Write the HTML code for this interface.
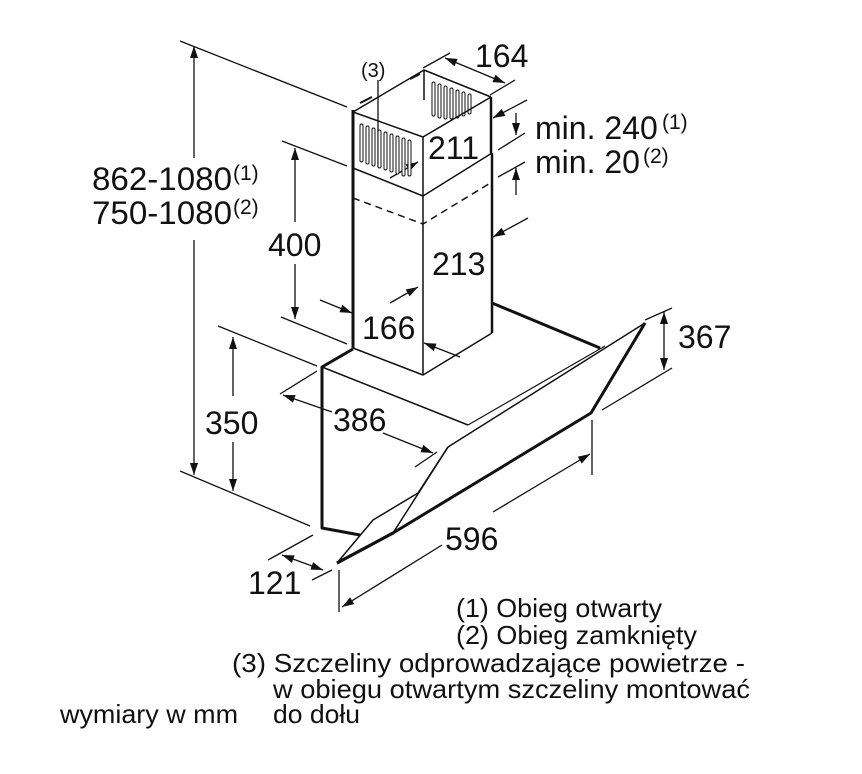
<!DOCTYPE html>
<html><head><meta charset="utf-8"><style>
html,body{margin:0;padding:0;background:#fff;}
svg{display:block;}
text{font-family:"Liberation Sans",Arial,sans-serif;fill:#111;}
</style></head><body>
<svg width="862" height="774" viewBox="0 0 862 774" xmlns="http://www.w3.org/2000/svg">
<defs>
<marker id="a" viewBox="0 0 12 8" refX="12" refY="4" markerWidth="12" markerHeight="8" markerUnits="userSpaceOnUse" orient="auto-start-reverse"><path d="M0,0 L12,4 L0,8 z" fill="#111"/></marker>
</defs>
<g stroke="#111" fill="none" stroke-width="1.3">
<line x1="180" y1="41" x2="347" y2="107"/>
<line x1="180" y1="471" x2="310" y2="526"/>
<line x1="282" y1="141" x2="347" y2="166"/>
<line x1="281" y1="317" x2="347" y2="344"/>
<line x1="218" y1="326" x2="317" y2="366"/>
<line x1="280" y1="394" x2="317" y2="371"/>
<line x1="415" y1="467" x2="437" y2="452"/>
<line x1="268" y1="560" x2="313" y2="535"/>
<line x1="312" y1="580" x2="332" y2="570"/>
<line x1="339" y1="570" x2="339" y2="612"/>
<line x1="592" y1="420" x2="592" y2="475"/>
<line x1="645" y1="320" x2="672" y2="308"/>
<line x1="602" y1="410" x2="672" y2="368"/>
<line x1="423" y1="68" x2="450" y2="53"/>
<line x1="490" y1="95" x2="515" y2="80"/>
<line x1="498" y1="150" x2="525" y2="133"/>
<line x1="498" y1="177" x2="525" y2="162"/>
<line x1="194" y1="46" x2="194" y2="158" marker-start="url(#a)"/>
<line x1="194" y1="240" x2="194" y2="475" marker-end="url(#a)"/>
<line x1="295" y1="148" x2="295" y2="222" marker-start="url(#a)"/>
<line x1="295" y1="264" x2="295" y2="319" marker-end="url(#a)"/>
<line x1="233" y1="337" x2="233" y2="396" marker-start="url(#a)"/>
<line x1="233" y1="442" x2="233" y2="491" marker-end="url(#a)"/>
<line x1="283" y1="395" x2="332" y2="412" marker-start="url(#a)"/>
<line x1="383" y1="433" x2="433" y2="453" marker-end="url(#a)"/>
<line x1="282" y1="555" x2="323" y2="570" marker-start="url(#a)" marker-end="url(#a)"/>
<line x1="342" y1="607" x2="442" y2="545" marker-start="url(#a)"/>
<line x1="493" y1="512" x2="590" y2="454" marker-end="url(#a)"/>
<line x1="664" y1="312" x2="664" y2="370" marker-start="url(#a)" marker-end="url(#a)"/>
<line x1="445" y1="58" x2="505" y2="83" marker-start="url(#a)" marker-end="url(#a)"/>
<line x1="527" y1="100" x2="493" y2="118" marker-end="url(#a)"/>
<line x1="516" y1="113" x2="516" y2="135" marker-end="url(#a)"/>
<line x1="516" y1="195" x2="516" y2="168" marker-end="url(#a)"/>
<line x1="528" y1="218" x2="493" y2="237" marker-end="url(#a)"/>
<line x1="390" y1="178" x2="418" y2="162" marker-end="url(#a)"/>
<line x1="320" y1="300" x2="352" y2="313" marker-end="url(#a)"/>
<line x1="390" y1="303" x2="418" y2="287" marker-end="url(#a)"/>
<line x1="460" y1="357" x2="424" y2="343" marker-end="url(#a)"/>
<line x1="378" y1="80" x2="378" y2="167"/>
</g>
<g fill="#fff" stroke="#111" stroke-width="1">
<rect x="360" y="124" width="3" height="38" rx="1.5"/>
<rect x="366" y="126" width="3" height="38" rx="1.5"/>
<rect x="372" y="128" width="3" height="38" rx="1.5"/>
<rect x="378" y="130" width="3" height="38" rx="1.5"/>
<rect x="384" y="132" width="3" height="38" rx="1.5"/>
<rect x="390" y="134" width="3" height="38" rx="1.5"/>
<rect x="396" y="136" width="3" height="38" rx="1.5"/>
<rect x="402" y="138" width="3" height="38" rx="1.5"/>
<rect x="408" y="140" width="3" height="36" rx="1.5"/>
<rect x="432" y="82" width="3" height="34" rx="1.5"/>
<rect x="438" y="84" width="3" height="34" rx="1.5"/>
<rect x="444" y="86" width="3" height="33" rx="1.5"/>
<rect x="450" y="88" width="3" height="31" rx="1.5"/>
<rect x="456" y="90" width="3" height="28" rx="1.5"/>
<rect x="462" y="92" width="3" height="24" rx="1.5"/>
<rect x="468" y="94" width="3" height="20" rx="1.5"/>
</g>
<g stroke="#111" fill="none" stroke-linejoin="round">
<path d="M353,112 L424,70 L491,97 M424,70 L424,100" stroke-width="1.5"/>
<path d="M360,103 L372,97 M410,79 L420,74" stroke-width="2"/>
<path d="M353,112 L423,137 L491,97" stroke-width="1.5"/>
<path d="M353,110 L353,348" stroke-width="3"/>
<path d="M491,97 L491,153" stroke-width="2.5"/>
<path d="M423,137 L423,375" stroke-width="1.5"/>
<path d="M353,168 L423,196 L492,153" stroke-width="1.5"/>
<path d="M353,198 L423,224 L492,182" stroke-width="1.5" stroke-dasharray="7,5"/>
<path d="M492,153 L492,333" stroke-width="2.5"/>
<path d="M353,348 L423,375 L492,333" stroke-width="1.5"/>
<path d="M492,303 L600,348" stroke-width="3"/>
<path d="M353,349 L322,367 L322,528 L360,535" stroke-width="3"/>
<path d="M322,367 L468,425" stroke-width="1.5"/>
<path d="M645,323 L448,447" stroke-width="1.5"/>
<path d="M605,346 L468,425" stroke-width="1.2"/>
<path d="M645,323 L591,413 L393,533 L337,563" stroke-width="3"/>
<path d="M448,447 L393,533" stroke-width="1.5"/>
<path d="M337,563 L373,520 L418,493 L448,447" stroke-width="1.5"/>
<path d="M337,563 L393,533" stroke-width="3"/>
</g>
<g font-size="32">
<text x="92" y="190" textLength="140" lengthAdjust="spacingAndGlyphs">862-1080</text><text x="233" y="180" font-size="21">(1)</text>
<text x="92" y="224" textLength="140" lengthAdjust="spacingAndGlyphs">750-1080</text><text x="233" y="214" font-size="21">(2)</text>
<text x="268" y="256">400</text>
<text x="205" y="434">350</text>
<text x="333" y="431">386</text>
<text x="248" y="594">121</text>
<text x="445" y="550">596</text>
<text x="678" y="348">367</text>
<text x="475" y="67">164</text>
<text x="428" y="159">211</text>
<text x="432" y="275">213</text>
<text x="362" y="339">166</text>
<text x="535" y="139">min. 240</text><text x="662" y="129" font-size="21">(1)</text>
<text x="535" y="173">min. 20</text><text x="643" y="163" font-size="21">(2)</text>
</g>
<text x="361" y="77" font-size="20">(3)</text>
<g font-size="26">
<text x="456" y="617" textLength="206" lengthAdjust="spacingAndGlyphs">(1) Obieg otwarty</text>
<text x="456" y="644" textLength="241" lengthAdjust="spacingAndGlyphs">(2) Obieg zamknięty</text>
<text x="232" y="672" textLength="513" lengthAdjust="spacingAndGlyphs">(3) Szczeliny odprowadzające powietrze -</text>
<text x="273" y="698" textLength="477" lengthAdjust="spacingAndGlyphs">w obiegu otwartym szczeliny montować</text>
<text x="273" y="723" textLength="87" lengthAdjust="spacingAndGlyphs">do dołu</text>
<text x="60" y="723" textLength="178" lengthAdjust="spacingAndGlyphs">wymiary w mm</text>
</g>
</svg>
</body></html>
